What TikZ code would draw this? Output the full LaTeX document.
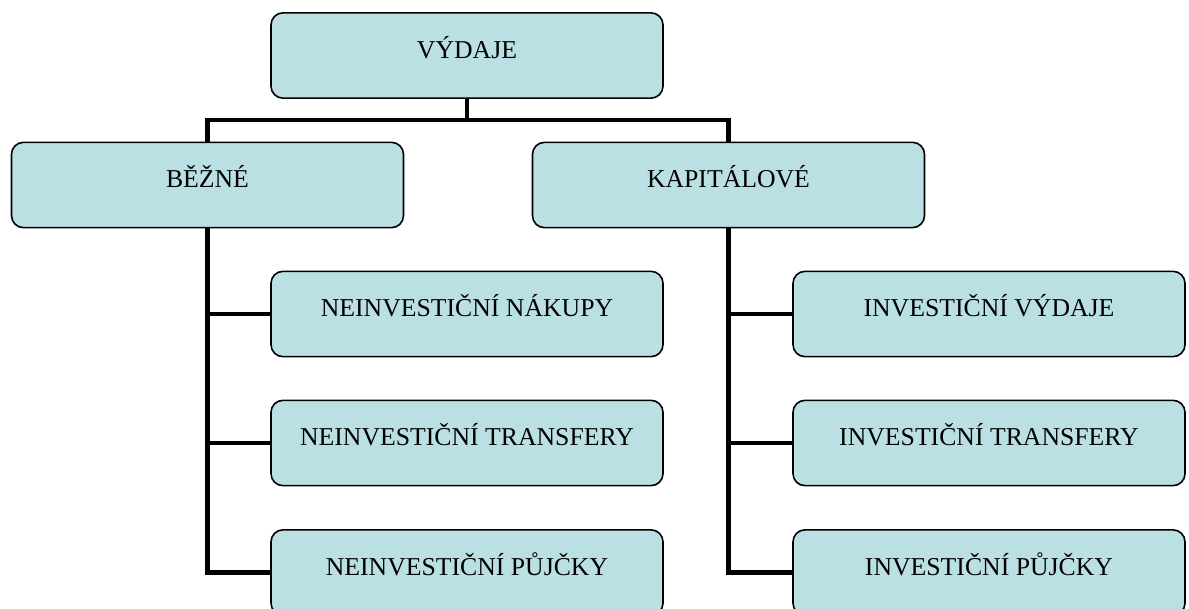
\documentclass[tikz,border=0pt]{standalone}
\usepackage{fontspec}
\setmainfont{Liberation Serif}
\usepackage{tikz}
\usetikzlibrary{positioning}
\definecolor{boxfill}{RGB}{187,224,227}

\begin{document}
\begin{tikzpicture}[x=0.75pt,y=-0.75pt,
  box/.style={draw, fill=boxfill, line width=1.2pt, rounded corners=9pt,
    minimum width=294pt, minimum height=64pt, inner sep=0pt,
    font=\fontsize{19.3}{23}\selectfont, text height=13pt, text depth=9pt},
  link/.style={line width=3.7pt, line join=miter}]
  \clip (0,0) rectangle (1189,609);
  \node [box] (vydaje) at (467,55.5) {VÝDAJE};
  \node [box] (bezne) at (207.5,185) {BĚŽNÉ};
  \node [box] (kapital) at (728.5,185) {KAPITÁLOVÉ};
  \node [box] (nakupy) at (467,314) {NEINVESTIČNÍ NÁKUPY};
  \node [box] (ntransfery) at (467,443) {NEINVESTIČNÍ TRANSFERY};
  \node [box] (npujcky) at (467,572.5) {NEINVESTIČNÍ PŮJČKY};
  \node [box] (ivydaje) at (989,314) {INVESTIČNÍ VÝDAJE};
  \node [box] (itransfery) at (989,443) {INVESTIČNÍ TRANSFERY};
  \node [box] (ipujcky) at (989,572.5) {INVESTIČNÍ PŮJČKY};
  \coordinate (split) at (467,120);
  \draw [link] (vydaje.south) -- (split);
  \draw [link] (split) -| (bezne.north);
  \draw [link] (split) -| (kapital.north);
  \draw [link] (bezne.south) |- (nakupy.west);
  \draw [link] (bezne.south) |- (ntransfery.west);
  \draw [link] (bezne.south) |- (npujcky.west);
  \draw [link] (kapital.south) |- (ivydaje.west);
  \draw [link] (kapital.south) |- (itransfery.west);
  \draw [link] (kapital.south) |- (ipujcky.west);
\end{tikzpicture}
\end{document}
